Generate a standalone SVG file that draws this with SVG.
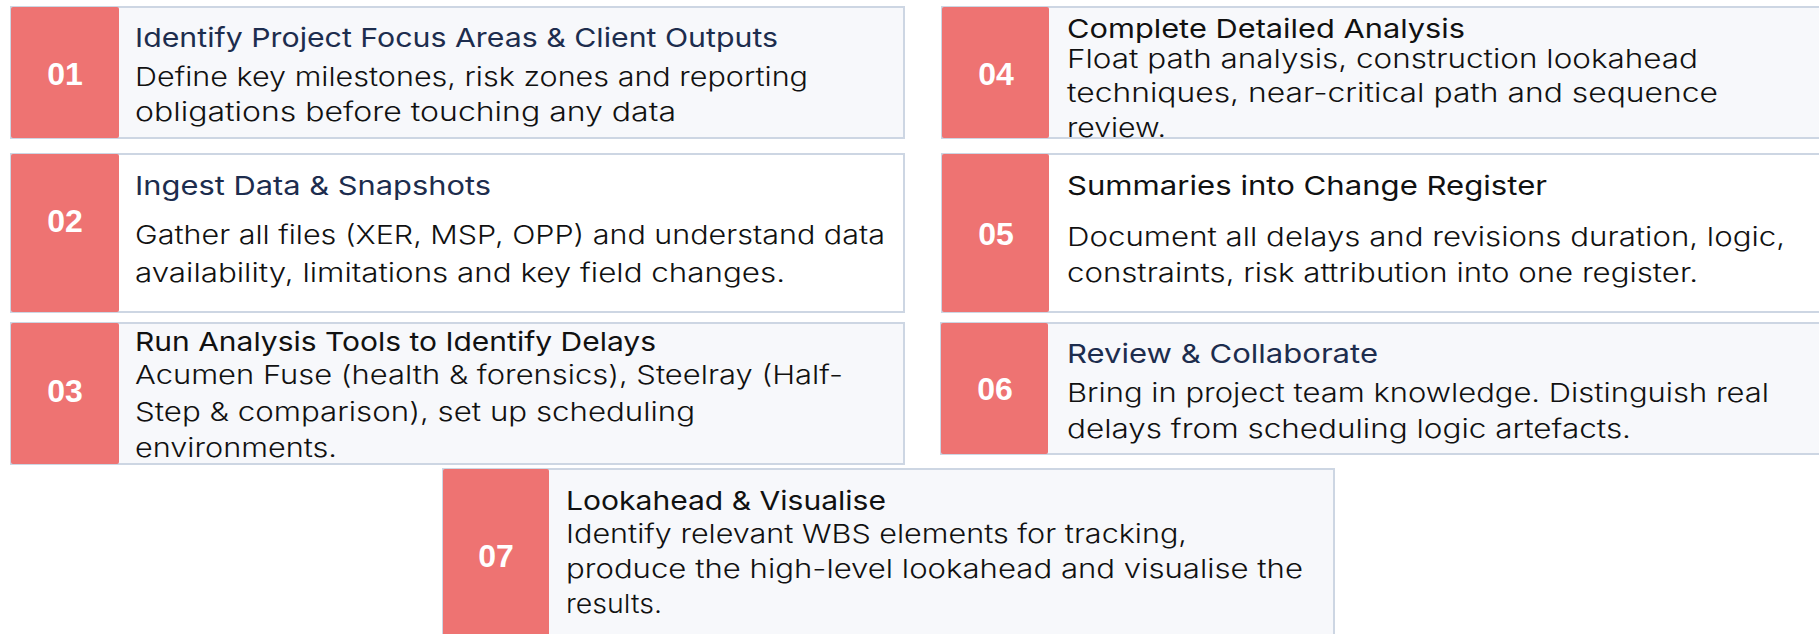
<svg xmlns="http://www.w3.org/2000/svg" width="1819" height="634" viewBox="0 0 1819 634">
<defs>
<style>
.card{fill:#F7F8FB;stroke:#CDD6E3;stroke-width:2}
.card.w{fill:#FFFFFF}
.num{fill:#EE7372}
.nt{font-family:"Liberation Sans",Arial,sans-serif;font-weight:700;font-size:32px;fill:#FFFFFF;text-anchor:middle}
.tt{font-family:Inter,"Open Sans",sans-serif;font-weight:400;font-size:26px;fill:#111111}
.tt.n{fill:#1D2D4E}
.bd{font-family:Inter,"Open Sans",sans-serif;font-weight:300;font-size:26px;fill:#111111}
</style>
</defs>
<rect width="1819" height="634" fill="#FFFFFF"/>
<g id="connectors"/>
<g id="step01">
<rect class="card" x="11" y="7" width="893" height="131"/>
<rect class="num" x="11" y="7" width="108" height="131" rx="2"/>
<text class="nt" x="65" y="85">01</text>
<text class="tt n" x="135" y="47" textLength="643" lengthAdjust="spacingAndGlyphs">Identify Project Focus Areas &amp; Client Outputs</text>
<text class="bd" x="135" y="86" textLength="673" lengthAdjust="spacingAndGlyphs">Define key milestones, risk zones and reporting</text>
<text class="bd" x="135" y="121" textLength="541" lengthAdjust="spacingAndGlyphs">obligations before touching any data</text>
</g>
<g id="step02">
<rect class="card w" x="11" y="154" width="893" height="158"/>
<rect class="num" x="11" y="154" width="108" height="158" rx="2"/>
<text class="nt" x="65" y="232">02</text>
<text class="tt n" x="135" y="195" textLength="356" lengthAdjust="spacingAndGlyphs">Ingest Data &amp; Snapshots</text>
<text class="bd" x="135" y="244" textLength="750" lengthAdjust="spacingAndGlyphs">Gather all files (XER, MSP, OPP) and understand data</text>
<text class="bd" x="135" y="282" textLength="650" lengthAdjust="spacingAndGlyphs">availability, limitations and key field changes.</text>
</g>
<g id="step03">
<rect class="card" x="11" y="323" width="893" height="141"/>
<rect class="num" x="11" y="323" width="108" height="141" rx="2"/>
<text class="nt" x="65" y="402">03</text>
<text class="tt" x="135" y="351" textLength="521" lengthAdjust="spacingAndGlyphs">Run Analysis Tools to Identify Delays</text>
<text class="bd" x="135" y="384" textLength="708" lengthAdjust="spacingAndGlyphs">Acumen Fuse (health &amp; forensics), Steelray (Half-</text>
<text class="bd" x="135" y="421" textLength="560" lengthAdjust="spacingAndGlyphs">Step &amp; comparison), set up scheduling</text>
<text class="bd" x="135" y="457" textLength="202" lengthAdjust="spacingAndGlyphs">environments.</text>
</g>
<g id="step04">
<rect class="card" x="942" y="7" width="893" height="131"/>
<rect class="num" x="942" y="7" width="107" height="131" rx="2"/>
<text class="nt" x="996" y="85">04</text>
<text class="tt" x="1067" y="38" textLength="398" lengthAdjust="spacingAndGlyphs">Complete Detailed Analysis</text>
<text class="bd" x="1067" y="68" textLength="631" lengthAdjust="spacingAndGlyphs">Float path analysis, construction lookahead</text>
<text class="bd" x="1067" y="102" textLength="651" lengthAdjust="spacingAndGlyphs">techniques, near-critical path and sequence</text>
<text class="bd" x="1067" y="137" textLength="99" lengthAdjust="spacingAndGlyphs">review.</text>
</g>
<g id="step05">
<rect class="card w" x="942" y="154" width="893" height="158"/>
<rect class="num" x="942" y="154" width="107" height="158" rx="2"/>
<text class="nt" x="996" y="245">05</text>
<text class="tt" x="1067" y="195" textLength="480" lengthAdjust="spacingAndGlyphs">Summaries into Change Register</text>
<text class="bd" x="1067" y="246" textLength="718" lengthAdjust="spacingAndGlyphs">Document all delays and revisions duration, logic,</text>
<text class="bd" x="1067" y="282" textLength="631" lengthAdjust="spacingAndGlyphs">constraints, risk attribution into one register.</text>
</g>
<g id="step06">
<rect class="card" x="941" y="323" width="893" height="131"/>
<rect class="num" x="941" y="323" width="107" height="131" rx="2"/>
<text class="nt" x="995" y="400">06</text>
<text class="tt n" x="1067" y="363" textLength="311" lengthAdjust="spacingAndGlyphs">Review &amp; Collaborate</text>
<text class="bd" x="1067" y="402" textLength="702" lengthAdjust="spacingAndGlyphs">Bring in project team knowledge. Distinguish real</text>
<text class="bd" x="1067" y="438" textLength="564" lengthAdjust="spacingAndGlyphs">delays from scheduling logic artefacts.</text>
</g>
<g id="step07">
<rect class="card" x="443" y="469" width="891" height="175"/>
<rect class="num" x="443" y="469" width="106" height="175" rx="2"/>
<text class="nt" x="496" y="567">07</text>
<text class="tt" x="566" y="510" textLength="320" lengthAdjust="spacingAndGlyphs">Lookahead &amp; Visualise</text>
<text class="bd" x="566" y="543" textLength="621" lengthAdjust="spacingAndGlyphs">Identify relevant WBS elements for tracking,</text>
<text class="bd" x="566" y="578" textLength="737" lengthAdjust="spacingAndGlyphs">produce the high-level lookahead and visualise the</text>
<text class="bd" x="566" y="613" textLength="96" lengthAdjust="spacingAndGlyphs">results.</text>
</g>
</svg>
